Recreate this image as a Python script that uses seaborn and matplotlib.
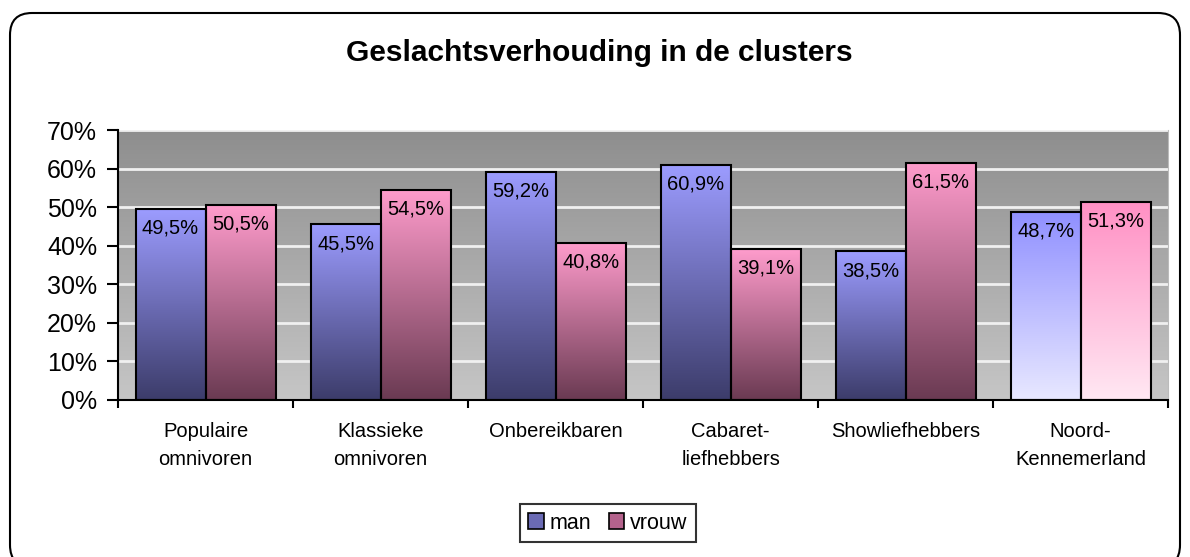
import matplotlib
matplotlib.use("Agg")
import matplotlib.pyplot as plt
import seaborn as sns
import pandas as pd
import numpy as np
from matplotlib.colors import LinearSegmentedColormap
from matplotlib.patches import FancyBboxPatch, Patch
from matplotlib.ticker import FixedLocator, FuncFormatter

# data
clusters = ["Populaire\nomnivoren", "Klassieke\nomnivoren", "Onbereikbaren",
            "Cabaret-\nliefhebbers", "Showliefhebbers", "Noord-\nKennemerland"]
man = [49.5, 45.5, 59.2, 60.9, 38.5, 48.7]
vrouw = [50.5, 54.5, 40.8, 39.1, 61.5, 51.3]
series = ["man", "vrouw"]

df = pd.DataFrame({
    "cluster": clusters * 2,
    "geslacht": ["man"] * len(man) + ["vrouw"] * len(vrouw),
    "pct": man + vrouw,
})

sns.set_style("white")
plt.rcParams["font.family"] = ["Liberation Sans", "DejaVu Sans"]
plt.rcParams["text.color"] = "black"
plt.rcParams["xtick.color"] = "black"
plt.rcParams["ytick.color"] = "black"

fig = plt.figure(figsize=(11.9, 5.57), dpi=100)
ax = fig.add_axes([0.0992, 0.2819, 0.8824, 0.4847])

sns.barplot(data=df, x="cluster", y="pct", hue="geslacht", order=clusters,
            hue_order=series, palette=["#6868b0", "#b0608a"], width=0.8,
            edgecolor="black", linewidth=1.5, ax=ax, legend=False, zorder=3)

# gradient fills (top -> bottom); the last group is the region reference
grad = {
    "man": ("#9c9cff", "#3c3c6a"),
    "vrouw": ("#ff9ccc", "#6a3a52"),
}
grad_ref = {
    "man": ("#9090ff", "#e8e8ff"),
    "vrouw": ("#ff90c4", "#ffe8f3"),
}
ramp = np.linspace(0, 1, 256).reshape(-1, 1)
for name, cont in zip(series, ax.containers):
    for i, bar in enumerate(cont):
        top, bottom = (grad_ref if i == len(clusters) - 1 else grad)[name]
        cmap = LinearSegmentedColormap.from_list("g", [top, bottom])
        x, w, h = bar.get_x(), bar.get_width(), bar.get_height()
        ax.imshow(ramp, extent=[x, x + w, 0, h], aspect="auto", cmap=cmap,
                  zorder=2, interpolation="bicubic")
        bar.set_facecolor("none")
        ax.annotate(f"{h:.1f}%".replace(".", ","), (x + w / 2, h),
                    xytext=(0, -7), textcoords="offset points",
                    ha="center", va="top", fontsize=14.5, color="black",
                    zorder=4)

# grey plot-area background
bg = LinearSegmentedColormap.from_list("bg", ["#8e8e8e", "#c6c6c6"])
ax.imshow(ramp, extent=[0, 1, 0, 1], transform=ax.transAxes, aspect="auto",
          cmap=bg, zorder=0)

ax.set_xlim(-0.5, len(clusters) - 0.5)
ax.set_ylim(0, 70)
ax.set_yticks(range(0, 71, 10))
ax.yaxis.set_major_formatter(FuncFormatter(lambda v, _: f"{v:.0f}%"))
ax.grid(axis="y", color="#f0f0f0", linewidth=2, zorder=1)
ax.set_axisbelow(True)

ax.xaxis.set_major_locator(FixedLocator(np.arange(-0.5, len(clusters), 1.0)))
ax.xaxis.set_minor_locator(FixedLocator(np.arange(len(clusters))))
ax.set_xticklabels([""] * (len(clusters) + 1))
ax.set_xticklabels(clusters, minor=True)
ax.tick_params(axis="x", which="major", direction="out", length=6, width=1.5,
               bottom=True)
ax.tick_params(axis="x", which="minor", length=0, pad=16, labelsize=14.5)
ax.tick_params(axis="y", direction="out", length=8, width=1.5,
               left=True, labelsize=18, pad=7)
for lab in ax.get_xticklabels(minor=True):
    lab.set_linespacing(1.6)

ax.set_xlabel("")
ax.set_ylabel("")
ax.spines["top"].set_visible(False)
ax.spines["right"].set_color("#bbbbbb")
ax.spines["left"].set_color("black")
ax.spines["left"].set_linewidth(1.5)
ax.spines["bottom"].set_color("black")
ax.spines["bottom"].set_linewidth(1.5)

fig.text(0.504, 0.905, "Geslachtsverhouding in de clusters", ha="center",
         va="center", fontsize=21.5, fontweight="bold")

handles = [Patch(facecolor="#6a6ab4", edgecolor="black", linewidth=1.2),
           Patch(facecolor="#b4628c", edgecolor="black", linewidth=1.2)]
leg = fig.legend(handles, series, loc="center", bbox_to_anchor=(0.511, 0.061),
                 ncol=2, fontsize=15.5, frameon=True, fancybox=False,
                 handlelength=0.7, handleheight=0.7, handletextpad=0.3,
                 columnspacing=0.8, borderpad=0.4, edgecolor="black")
leg.get_frame().set_linewidth(1.5)

border = FancyBboxPatch((0.1, -0.1), 11.7, 5.54, boxstyle="round,pad=0,rounding_size=0.22",
                        transform=fig.dpi_scale_trans, facecolor="none",
                        edgecolor="black", linewidth=1.5, clip_on=False)
fig.patches.append(border)

fig.savefig("out.png", dpi=100)
